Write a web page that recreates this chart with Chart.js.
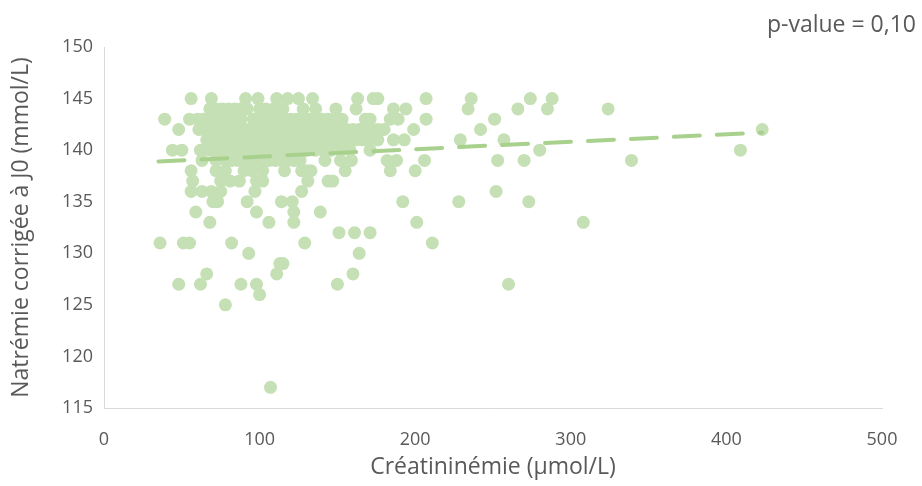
<!DOCTYPE html>
<html>
<head>
<meta charset="utf-8">
<script src="https://cdn.jsdelivr.net/npm/chart.js@4.4.1/dist/chart.umd.min.js"></script>
<style>
  body { margin: 0; background: #fff; }
  canvas { display: block; }
</style>
</head>
<body>
<canvas id="myChart" width="922" height="486"></canvas>
<script>
// natrémie levels (mmol/L) and the créatininémie values read at each level
const naLevels = [145, 144, 143, 142, 141, 140, 139, 138, 137, 136, 135, 134, 133, 132, 131, 130, 129, 128, 127, 126, 125, 117]
const creatByLevel = [
    [56, 69, 91, 99, 111, 118, 125, 134, 163, 173, 176, 207, 236, 274, 288],
    [68, 72, 76, 80, 84, 88, 92, 100, 104, 109, 115, 128, 136, 149, 162, 186, 194, 234, 266, 285, 324],
    [39, 55, 60, 64, 68, 72, 76, 80, 84, 88, 96, 102, 108, 112, 116, 120, 124, 128, 132, 136, 140, 144, 148, 153, 168, 171, 184, 189, 207, 251],
    [48, 61, 64, 67, 70, 73, 76, 79, 82, 85, 88, 91, 94, 97, 100, 103, 106, 109, 112, 116, 120, 124, 128, 132, 136, 140, 144, 148, 152, 156, 160, 164, 168, 172, 176, 180, 199, 242, 423],
    [66, 69, 72, 75, 78, 81, 84, 87, 90, 93, 96, 99, 102, 105, 108, 111, 114, 118, 122, 126, 130, 134, 138, 142, 146, 150, 154, 158, 162, 166, 170, 176, 186, 193, 229, 257],
    [44, 50, 62, 68, 72, 76, 80, 84, 88, 92, 96, 100, 104, 108, 111, 115, 120, 125, 130, 136, 141, 146, 152, 158, 171, 280, 409],
    [63, 72, 78, 82, 86, 90, 94, 98, 102, 106, 110, 114, 118, 122, 126, 142, 152, 159, 182, 188, 206, 253, 270, 339],
    [56, 72, 78, 90, 95, 102, 116, 127, 130, 133, 155, 184, 200],
    [57, 75, 81, 87, 98, 102, 131, 144, 147],
    [56, 63, 69, 75, 97, 127, 252],
    [70, 73, 92, 114, 121, 192, 228, 273],
    [59, 98, 122, 139],
    [68, 106, 122, 201, 308],
    [151, 161, 171],
    [36, 51, 55, 82, 129, 211],
    [93, 164],
    [113, 115],
    [66, 111, 160],
    [48, 62, 88, 98, 150, 260],
    [100],
    [78],
    [107]
]

// linear trend
const trendX = [35, 423]
const trendY = [138.9, 141.7]

const xTicks = [0, 100, 200, 300, 400, 500]
const yTicks = [115, 120, 125, 130, 135, 140, 145, 150]
const pValueText = 'p-value = 0,10'

let points = []
naLevels.forEach((na, i) => {
    creatByLevel[i].forEach(c => {
        points = [...points, { x: c, y: na }]
    })
})
let trend = trendX.map((x, i) => ({ x: x, y: trendY[i] }))

const textColor = '#595959'
const fontFamily = "'Open Sans', 'Noto Sans', sans-serif"

const pValuePlugin = {
    id: 'pvalue',
    afterDraw(chart) {
        const ctx = chart.ctx
        ctx.save()
        ctx.font = '23px ' + fontFamily
        ctx.fillStyle = textColor
        ctx.textAlign = 'right'
        ctx.textBaseline = 'middle'
        ctx.fillText(pValueText, 916, 25)
        ctx.restore()
    }
}

let config = {
    type: 'scatter',
    data: {
        datasets: [{
            type: 'line',
            label: 'tendance',
            data: trend,
            borderColor: '#A9D18E',
            borderWidth: 4,
            borderDash: [26, 17],
            borderCapStyle: 'round',
            pointRadius: 0,
            fill: false,
            order: 0
        }, {
            label: 'patients',
            data: points,
            backgroundColor: '#C5E0B4',
            pointRadius: 6.5,
            pointBorderWidth: 0,
            pointHoverRadius: 6.5,
            order: 1
        }]
    },
    options: {
        responsive: false,
        animation: false,
        layout: { padding: { top: 47, right: 40, left: 0, bottom: 0 } },
        plugins: {
            legend: { display: false },
            tooltip: { enabled: false }
        },
        scales: {
            x: {
                type: 'linear',
                min: 0,
                max: 500,
                afterBuildTicks: (scale) => { scale.ticks = xTicks.map(v => ({ value: v })) },
                afterFit: (scale) => { scale.height = 78 },
                grid: { display: false, drawTicks: false },
                border: { display: true, color: '#D9D9D9', width: 1 },
                ticks: { color: textColor, font: { size: 18, family: fontFamily }, padding: 21, maxRotation: 0 },
                title: {
                    display: true,
                    text: 'Créatininémie (µmol/L)',
                    color: textColor,
                    font: { size: 23, family: fontFamily },
                    padding: { top: 0, bottom: 5 }
                }
            },
            y: {
                type: 'linear',
                min: 115,
                max: 150,
                afterBuildTicks: (scale) => { scale.ticks = yTicks.map(v => ({ value: v })) },
                afterFit: (scale) => { scale.width = 104 },
                grid: { display: false, drawTicks: false },
                border: { display: true, color: '#D9D9D9', width: 1 },
                ticks: { color: textColor, font: { size: 18, family: fontFamily }, padding: 11 },
                title: {
                    display: true,
                    text: 'Natrémie corrigée à J0 (mmol/L)',
                    color: textColor,
                    font: { size: 23, family: fontFamily },
                    padding: { top: 8, bottom: 0 }
                }
            }
        }
    },
    plugins: [pValuePlugin]
}

let myChart = new Chart(document.getElementById('myChart'), config)
</script>
</body>
</html>
